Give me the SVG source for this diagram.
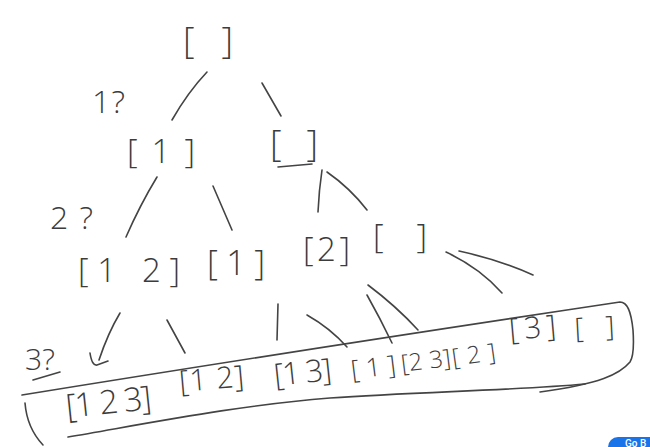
<svg xmlns="http://www.w3.org/2000/svg" width="650" height="447" viewBox="0 0 650 447">
<style>
.t{font-family:"Open Sans","Liberation Sans",sans-serif;font-weight:300;fill:#3c3c3c}
.s{fill:none;stroke:#444;stroke-width:1.6;stroke-linecap:round;stroke-linejoin:round}
</style>
<rect width="650" height="447" fill="#fff"/>
<g id="connectors" class="s">
<path d="M207,72 Q188,92 172,120"/>
<path d="M262,83 L281,116"/>
<path d="M157,177 Q140,205 126,237"/>
<path d="M213,186 L232,230"/>
<path d="M322,170 Q319,190 318,212"/>
<path d="M327,172 Q350,188 367,210"/>
<path d="M446,252 Q480,268 502,293"/>
<path d="M459,251 Q500,260 533,275"/>
<path d="M120,313 Q108,333 99,360"/>
<path d="M90,353 Q92,366 97,365 L108,361"/>
<path d="M167,320 L185,353"/>
<path d="M278,304 L277,340"/>
<path d="M307,315 Q330,328 347,347"/>
<path d="M367,295 Q380,318 392,343"/>
<path d="M368,285 Q396,306 418,330"/>
</g>
<g id="level3-box" class="s">
<path d="M22,395 Q300,350 620,302 C627,302 631,310 633,330 C634,345 634,356 630,362 C620,374 600,384 540,392"/>
<path d="M68,437 C150,423 240,405 330,398 C420,392 520,390 585,384"/>
<path d="M25,403 Q27,428 43,445"/>
</g>
<g id="n-root"><text class="t" x="183" y="53" font-size="36" textLength="50" lengthAdjust="spacing">[ ]</text></g>
<g id="q1"><text class="t" x="92" y="113" font-size="32" textLength="33" lengthAdjust="spacing">1?</text></g>
<g id="n-1"><text class="t" x="127" y="163" font-size="33" textLength="68" lengthAdjust="spacing">[1]</text></g>
<g id="n-e1"><text class="t" x="270" y="156" font-size="36" textLength="48" lengthAdjust="spacing">[ ]</text><path class="s" d="M278,167 L312,164"/></g>
<g id="q2"><text class="t" x="50" y="229" font-size="32" textLength="43" lengthAdjust="spacing">2?</text></g>
<g id="n-12"><text class="t" x="78" y="282" font-size="33" textLength="102" lengthAdjust="spacing">[1 2]</text></g>
<g id="n-1b"><text class="t" x="207" y="275" font-size="34" textLength="58" lengthAdjust="spacing">[1]</text></g>
<g id="n-2"><text class="t" x="303" y="261" font-size="33" textLength="47" lengthAdjust="spacing">[2]</text></g>
<g id="n-e2"><text class="t" x="373" y="248" font-size="33" textLength="54" lengthAdjust="spacing">[ ]</text></g>
<g id="q3"><text class="t" x="25" y="370" font-size="30" textLength="30" lengthAdjust="spacing">3?</text><path class="s" d="M33,380 L60,372"/></g>
<g id="n-123"><text class="t" x="67" y="418" font-size="33" textLength="86" lengthAdjust="spacing" transform="rotate(-6 67 418)">[1 2 3]</text></g>
<g id="n-12b"><text class="t" x="180" y="392" font-size="30" textLength="65" lengthAdjust="spacing" transform="rotate(-5 180 392)">[1 2]</text></g>
<g id="n-13"><text class="t" x="275" y="386" font-size="31" textLength="58" lengthAdjust="spacing" transform="rotate(-6 275 386)">[1 3]</text></g>
<g id="n-1c"><text class="t" x="352" y="379" font-size="26" textLength="45" lengthAdjust="spacing" transform="rotate(-7 352 379)">[1]</text></g>
<g id="n-23"><text class="t" x="402" y="372" font-size="24" textLength="50" lengthAdjust="spacing" transform="rotate(-7 402 372)">[2 3]</text></g>
<g id="n-2b"><text class="t" x="453" y="366" font-size="24" textLength="44" lengthAdjust="spacing" transform="rotate(-8 453 366)">[2]</text></g>
<g id="n-3"><text class="t" x="510" y="340" font-size="30" textLength="47" lengthAdjust="spacing" transform="rotate(-5 510 340)">[3]</text></g>
<g id="n-e3"><text class="t" x="575" y="338" font-size="28" textLength="40" lengthAdjust="spacing" transform="rotate(-3 575 338)">[ ]</text></g>
<g id="go-button"><rect x="608" y="437" width="60" height="24" rx="10" fill="#1a73e8"/><text x="625" y="446.5" font-family="Roboto,'Liberation Sans',sans-serif" font-size="10" font-weight="500" fill="#fff">Go B</text></g>
</svg>
